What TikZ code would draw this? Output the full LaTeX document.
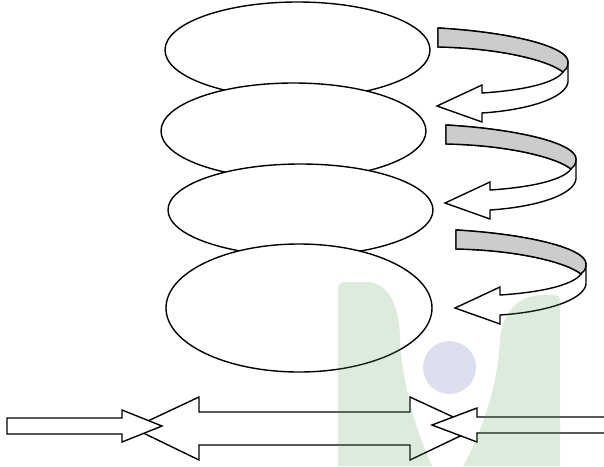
\documentclass[tikz,border=0pt]{standalone}
\usetikzlibrary{shapes.geometric}
\definecolor{markgreen}{RGB}{80,155,80}
\definecolor{markblue}{RGB}{80,95,170}
\tikzset{
  outline/.style={draw=black, line width=1.4pt},
  disc/.style={ellipse, outline, fill=white, inner sep=0pt},
  band/.style={outline, fill=white},
  curvedarrow/.pic={
    % white return band ending in a left-pointing head
    \draw[band] (0,0) .. controls (70,4) and (130,18) .. (130,34) -- (130,54)
      .. controls (128,70) and (90,82) .. (44,85) -- (44,94) -- (-1,78)
      -- (44,57) -- (44,65) .. controls (90,62) and (118,54) .. (125,44)
      .. controls (110,32) and (60,20) .. (0,19) -- cycle;
    % grey upper face of the band
    \draw[outline, fill=gray!40] (0,0) .. controls (70,4) and (130,18) .. (130,34)
      .. controls (130,39) and (128,42) .. (125,44)
      .. controls (110,32) and (60,20) .. (0,19) -- cycle;
  },
  logotint/.style={fill opacity=0.2, draw=none}
}
\begin{document}
\begin{tikzpicture}[x=1pt, y=-1pt]
  \useasboundingbox (0,0) rectangle (604,466);

  % stacked discs
  \node[disc, minimum width=265, minimum height=96] (e1) at (297.5,50) {};
  \node[disc, minimum width=265, minimum height=96] (e2) at (293.5,131) {};
  \node[disc, minimum width=265, minimum height=92] (e3) at (300.5,210) {};
  \node[disc, minimum width=266, minimum height=128] (e4) at (299,308) {};

  % turning arrows at the right
  \pic (ca1) at (438,28) {curvedarrow};
  \pic (ca2) at (446,125) {curvedarrow};
  \pic (ca3) at (456,230) {curvedarrow};

  % double-headed arrow and the two arrows pushing into it
  \draw[band] (133,428) -- (199,397) -- (199,412) -- (410,412) -- (410,397)
    -- (477,428) -- (410,460) -- (410,445) -- (199,445) -- (199,460) -- cycle;
  \draw[band] (7,418) -- (122,418) -- (122,410) -- (162,426) -- (122,442)
    -- (122,434) -- (7,434) -- cycle;
  \draw[band] (605,417) -- (477,417) -- (477,408) -- (432,425) -- (477,442)
    -- (477,433) -- (605,433);

  % faint logo laid over the drawing
  \fill[logotint, markgreen] (338,466) -- (338,290) .. controls (338,284) and (340,282) .. (346,282)
    -- (368,282) .. controls (388,283) and (399,305) .. (400,337)
    .. controls (402,390) and (420,440) .. (432,466) -- cycle;
  \fill[logotint, markgreen] (560,466) -- (560,301) .. controls (560,297) and (558,295) .. (553,295)
    -- (540,295) .. controls (515,297) and (502,315) .. (500,340)
    .. controls (498,390) and (478,440) .. (463,466) -- cycle;
  \fill[logotint, markblue] (449.5,367.5) circle[radius=26.5];
\end{tikzpicture}
\end{document}
